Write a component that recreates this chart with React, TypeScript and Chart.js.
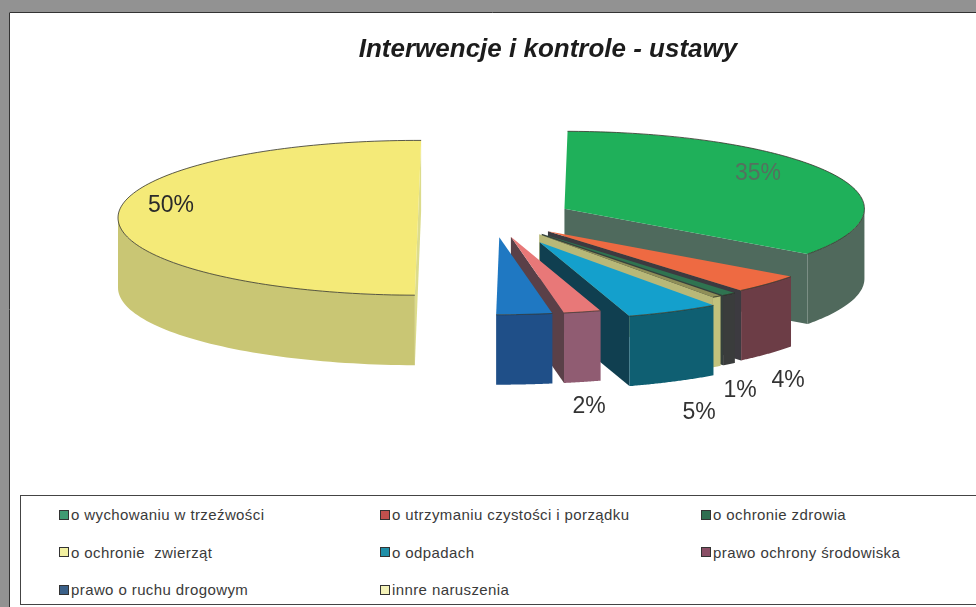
import React, { useEffect, useRef } from "react";
import { Chart, registerables } from "chart.js";

Chart.register(...registerables);

const titleText = "Interwencje i kontrole - ustawy";
const categories = [
  "o wychowaniu w trzeźwości",
  "o utrzymaniu czystości i porządku",
  "o ochronie zdrowia",
  "o ochronie  zwierząt",
  "o odpadach",
  "prawo ochrony środowiska",
  "prawo o ruchu drogowym",
  "innre naruszenia",
];
const values = [34.8, 3.9, 0.8, 0.5, 5, 2, 3, 50];
const valueLabels = ["35%", "4%", "1%", "", "5%", "2%", "", "50%"];
const topColors = ["#1fb05a", "#ee6a42", "#2f7350", "#8f8f58", "#14a0cc", "#e87878", "#1f78c2", "#f4ea78"];
const wallColors = ["#50695c", "#6c3d46", "#3a3c3c", "#c2c27c", "#0f5f72", "#905c72", "#1f4f88", "#c9c674"];
const faceColors = ["#4f6a5d", "#3c3a40", "#35403c", "#b8b878", "#103f50", "#5a4048", "#1f4f88", "#dcdc8c"];
const swatchColors = ["#3f9a72", "#c0504d", "#2f6e50", "#f2f0a0", "#1f8fa8", "#8a4f66", "#3a6088", "#f4f2b8"];
const labelAnchors = [
  [758, 174], [788, 381], [740, 391], [0, 0], [699, 413], [589, 407], [0, 0], [171, 206],
];
const labelColors = ["#55705f", "#333", "#333", "#333", "#333", "#333", "#333", "#2a2a2a"];
const sliceOffsets = [80, 75, 78, 78, 105, 75, 75, 75];

const squash = 0.258;
const depth = 70;
const pieRadius = 300;

const pie3d = {
  id: "pie3d",
  beforeDraw(chart: any) {
    const { ctx, width, height } = chart;
    ctx.save();
    ctx.fillStyle = "#929292";
    ctx.fillRect(0, 0, width, height);
    ctx.fillStyle = "#ffffff";
    ctx.fillRect(9, 12, width - 9, height - 12);
    ctx.strokeStyle = "#333";
    ctx.lineWidth = 1;
    ctx.beginPath();
    ctx.moveTo(9.5, height);
    ctx.lineTo(9.5, 12.5);
    ctx.lineTo(width, 12.5);
    ctx.stroke();
    ctx.restore();
  },
  beforeDatasetsDraw(chart: any) {
    const { ctx } = chart;
    const arcs = chart.getDatasetMeta(0).data;
    arcs.forEach((arc: any, i: number) => {
      const { x, y, startAngle: a, endAngle: b, outerRadius: r } = arc.getProps(
        ["x", "y", "startAngle", "endAngle", "outerRadius"],
        true
      );
      const mid = (a + b) / 2;
      const ox = Math.cos(mid) * sliceOffsets[i];
      const ly = Math.sin(mid) * sliceOffsets[i];
      const cx = x + ox;
      const px = (t: number) => cx + r * Math.cos(t);
      const py = (t: number) => y + (ly + r * Math.sin(t)) * squash;
      const tipY = y + ly * squash;

      const face = (t: number) => {
        ctx.fillStyle = faceColors[i];
        ctx.beginPath();
        ctx.moveTo(cx, tipY);
        ctx.lineTo(px(t), py(t));
        ctx.lineTo(px(t), py(t) + depth);
        ctx.lineTo(cx, tipY + depth);
        ctx.closePath();
        ctx.fill();
      };
      if (Math.cos(a) < 0) face(a);
      if (Math.cos(b) > 0) face(b);

      const lo = Math.max(a, 0);
      const hi = Math.min(b, Math.PI);
      if (lo < hi) {
        ctx.fillStyle = wallColors[i];
        ctx.beginPath();
        const steps = 60;
        for (let s = 0; s <= steps; s++) {
          const t = lo + ((hi - lo) * s) / steps;
          s === 0 ? ctx.moveTo(px(t), py(t)) : ctx.lineTo(px(t), py(t));
        }
        for (let s = steps; s >= 0; s--) {
          const t = lo + ((hi - lo) * s) / steps;
          ctx.lineTo(px(t), py(t) + depth);
        }
        ctx.closePath();
        ctx.fill();
      }

      // top surface: the library's own arc element, exploded and squashed into perspective
      ctx.save();
      ctx.translate(ox, y);
      ctx.scale(1, squash);
      ctx.translate(0, -y + ly);
      arc.draw(ctx);
      ctx.restore();

      // rim
      ctx.save();
      ctx.strokeStyle = "rgba(50,50,40,0.8)";
      ctx.lineWidth = 1;
      ctx.beginPath();
      const steps = 120;
      for (let s = 0; s <= steps; s++) {
        const t = a + ((b - a) * s) / steps;
        s === 0 ? ctx.moveTo(px(t), py(t)) : ctx.lineTo(px(t), py(t));
      }
      ctx.stroke();
      ctx.restore();
    });
    return false;
  },
  afterDraw(chart: any) {
    const { ctx } = chart;
    ctx.save();
    ctx.textAlign = "center";
    ctx.textBaseline = "middle";
    ctx.fillStyle = "#1c1c1c";
    ctx.font = "italic bold 26px 'Liberation Sans', Arial, sans-serif";
    ctx.fillText(titleText, 548, 50);
    ctx.font = "23px 'Liberation Sans', Arial, sans-serif";
    valueLabels.forEach((t, i) => {
      if (!t) return;
      ctx.fillStyle = labelColors[i];
      ctx.fillText(t, labelAnchors[i][0], labelAnchors[i][1]);
    });
    ctx.restore();
  },
};

export default function App() {
  const ref = useRef<HTMLCanvasElement>(null);
  useEffect(() => {
    document.body.style.margin = "0";
    const chart = new Chart(ref.current as HTMLCanvasElement, {
      type: "pie",
      data: {
        labels: categories,
        datasets: [
          {
            data: values,
            backgroundColor: topColors,
            borderWidth: 0,
            radius: pieRadius,
            rotation: 0.6,
          } as any,
        ],
      },
      options: {
        responsive: false,
        animation: false,
        events: [],
        layout: { padding: { left: 10, right: 0, top: 0, bottom: 171 } },
        plugins: { legend: { display: false }, tooltip: { enabled: false }, title: { display: false } },
      },
      plugins: [pie3d as any],
    });
    return () => chart.destroy();
  }, []);

  return (
    <div style={{ position: "relative", width: 976, height: 607, overflow: "hidden" }}>
      <canvas ref={ref} width={976} height={607} style={{ display: "block" }} />
      <div
        style={{
          position: "absolute",
          left: 20,
          top: 495,
          width: 970,
          height: 110,
          boxSizing: "border-box",
          border: "1px solid #444",
          background: "#fff",
          paddingLeft: 38,
          display: "grid",
          gridTemplateColumns: "321px 321px 321px",
          gridAutoRows: "37.5px",
          alignItems: "center",
          font: "15px 'Liberation Sans', Arial, sans-serif",
          letterSpacing: "0.4px",
          color: "#3a3a3a",
        }}
      >
        {categories.map((c, i) => (
          <div key={c} style={{ display: "flex", alignItems: "center", whiteSpace: "pre" }}>
            <span
              style={{
                width: 8,
                height: 8,
                marginRight: 2,
                border: "1px solid #333",
                background: swatchColors[i],
                flex: "none",
              }}
            />
            {c}
          </div>
        ))}
      </div>
    </div>
  );
}
